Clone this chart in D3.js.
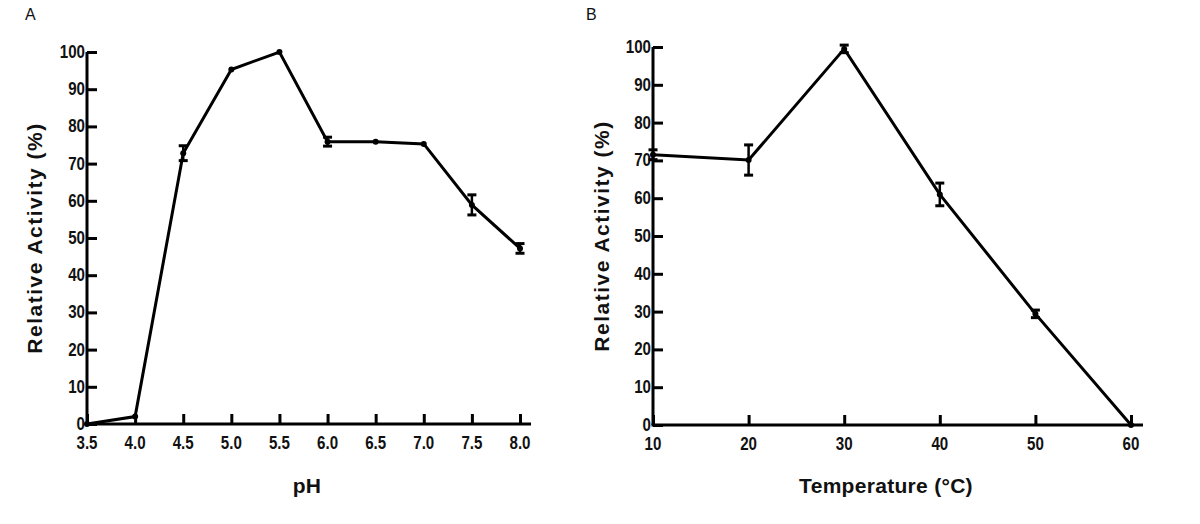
<!DOCTYPE html>
<html>
<head>
<meta charset="utf-8">
<script src="https://cdn.jsdelivr.net/npm/d3@7"></script>
<style>
  body { margin: 0; background: #fff; }
  svg { display: block; }
  .tick-label { font-family: "Liberation Sans Narrow", "Arial Narrow", "Liberation Sans", sans-serif; font-weight: bold; font-size: 18px; fill: #111; }
  .axis-title { font-family: "Liberation Sans", Arial, sans-serif; font-weight: bold; fill: #111; }
  .panel-letter { font-family: "Liberation Sans", Arial, sans-serif; font-size: 16px; fill: #111; }
</style>
</head>
<body>
<svg id="chart" width="1200" height="524"></svg>
<script>
// ---- Panel A data (pH) ----
const phValues = [3.5, 4.0, 4.5, 5.0, 5.5, 6.0, 6.5, 7.0, 7.5, 8.0];
const phActivity = [0, 2, 72.8, 95.3, 100, 75.9, 75.9, 75.3, 58.9, 47.2];
const phError = [0, 0, 2.0, 0, 0, 1.2, 0, 0, 2.7, 1.3];
const phTickLabels = ["3.5", "4.0", "4.5", "5.0", "5.5", "6.0", "6.5", "7.0", "7.5", "8.0"];

// ---- Panel B data (temperature) ----
const tempValues = [10, 20, 30, 40, 50, 60];
const tempActivity = [71.5, 70.1, 99.5, 61.0, 29.4, 0];
const tempError = [1.3, 4.0, 1.0, 3.0, 1.0, 0];
const tempTickLabels = ["10", "20", "30", "40", "50", "60"];

const yTicks = [0, 10, 20, 30, 40, 50, 60, 70, 80, 90, 100];
const yTitle = "Relative Activity (%)";

const svg = d3.select("#chart");
const narrow = 0.84; // horizontal compression to mimic a condensed bold face

function drawPanel(cfg) {
  const g = svg.append("g");
  const x = d3.scaleLinear().domain(cfg.xDomain).range([cfg.x0, cfg.x1]);
  const y = d3.scaleLinear().domain([0, 100]).range([cfg.y0, cfg.y1]);

  // axes lines
  g.append("line").attr("x1", cfg.x0).attr("x2", cfg.x0).attr("y1", y(0)).attr("y2", y(100))
    .attr("stroke", "#000").attr("stroke-width", 3);
  g.append("line").attr("x1", cfg.x0 - 1.5).attr("x2", cfg.xEnd).attr("y1", y(0)).attr("y2", y(0))
    .attr("stroke", "#000").attr("stroke-width", 3);

  // y ticks (inward)
  const yAxis = d3.axisRight(y).tickValues(yTicks).tickSize(10).tickFormat("");
  const ya = g.append("g").attr("transform", `translate(${cfg.x0},0)`).call(yAxis);
  ya.select(".domain").remove();
  ya.selectAll(".tick line").attr("stroke", "#000").attr("stroke-width", 3);
  g.selectAll(".ylab").data(yTicks).join("text")
    .attr("class", "tick-label")
    .attr("transform", d => `translate(${cfg.x0 - 2},${y(d) + 6}) scale(${narrow},1)`)
    .attr("text-anchor", "end").text(d => d);

  // x ticks (inward)
  const xAxis = d3.axisTop(x).tickValues(cfg.xValues).tickSize(10).tickFormat("");
  const xa = g.append("g").attr("transform", `translate(0,${y(0)})`).call(xAxis);
  xa.select(".domain").remove();
  xa.selectAll(".tick line").attr("stroke", "#000").attr("stroke-width", 3);
  g.selectAll(".xlab").data(cfg.xValues).join("text")
    .attr("class", "tick-label")
    .attr("transform", d => `translate(${x(d)},${y(0) + 25}) scale(${narrow},1)`)
    .attr("text-anchor", "middle").text((d, i) => cfg.xLabels[i]);

  // line
  const pts = cfg.xValues.map((v, i) => [v, cfg.values[i], cfg.errors[i]]);
  const line = d3.line().x(d => x(d[0])).y(d => y(d[1]));
  g.append("path").datum(pts).attr("d", line)
    .attr("fill", "none").attr("stroke", "#000").attr("stroke-width", 3)
    .attr("stroke-linejoin", "miter");

  // error bars
  const eb = g.selectAll(".eb").data(pts.filter(d => d[2] > 0)).join("g");
  eb.append("line").attr("x1", d => x(d[0])).attr("x2", d => x(d[0]))
    .attr("y1", d => y(d[1] + d[2])).attr("y2", d => y(d[1] - d[2]))
    .attr("stroke", "#000").attr("stroke-width", 2.5);
  [1, -1].forEach(s => {
    eb.append("line").attr("x1", d => x(d[0]) - 4.5).attr("x2", d => x(d[0]) + 4.5)
      .attr("y1", d => y(d[1] + s * d[2])).attr("y2", d => y(d[1] + s * d[2]))
      .attr("stroke", "#000").attr("stroke-width", 3);
  });

  // markers
  g.selectAll(".pt").data(pts).join("circle")
    .attr("cx", d => x(d[0])).attr("cy", d => y(d[1])).attr("r", 3).attr("fill", "#000");

  // titles
  g.append("text").attr("class", "axis-title")
    .attr("transform", `translate(${cfg.yTitleX},${(y(0) + y(100)) / 2}) rotate(-90)`)
    .attr("text-anchor", "middle").attr("font-size", 21).attr("letter-spacing", 1.5)
    .text(yTitle);
  g.append("text").attr("class", "axis-title")
    .attr("x", cfg.xTitleX).attr("y", 493)
    .attr("text-anchor", "middle").attr("font-size", 21).attr("letter-spacing", 0.3)
    .text(cfg.xTitle);
  g.append("text").attr("class", "panel-letter")
    .attr("x", cfg.letterX).attr("y", 20).text(cfg.letter);
}

drawPanel({
  xDomain: [3.5, 8.0], x0: 87, x1: 520, xEnd: 531, y0: 424, y1: 52,
  xValues: phValues, values: phActivity, errors: phError, xLabels: phTickLabels,
  yTitleX: 42, xTitle: "pH", xTitleX: 307, letter: "A", letterX: 25
});

drawPanel({
  xDomain: [10, 60], x0: 653, x1: 1131, xEnd: 1143, y0: 425, y1: 47,
  xValues: tempValues, values: tempActivity, errors: tempError, xLabels: tempTickLabels,
  yTitleX: 609, xTitle: "Temperature (°C)", xTitleX: 886, letter: "B", letterX: 586
});
</script>
</body>
</html>
